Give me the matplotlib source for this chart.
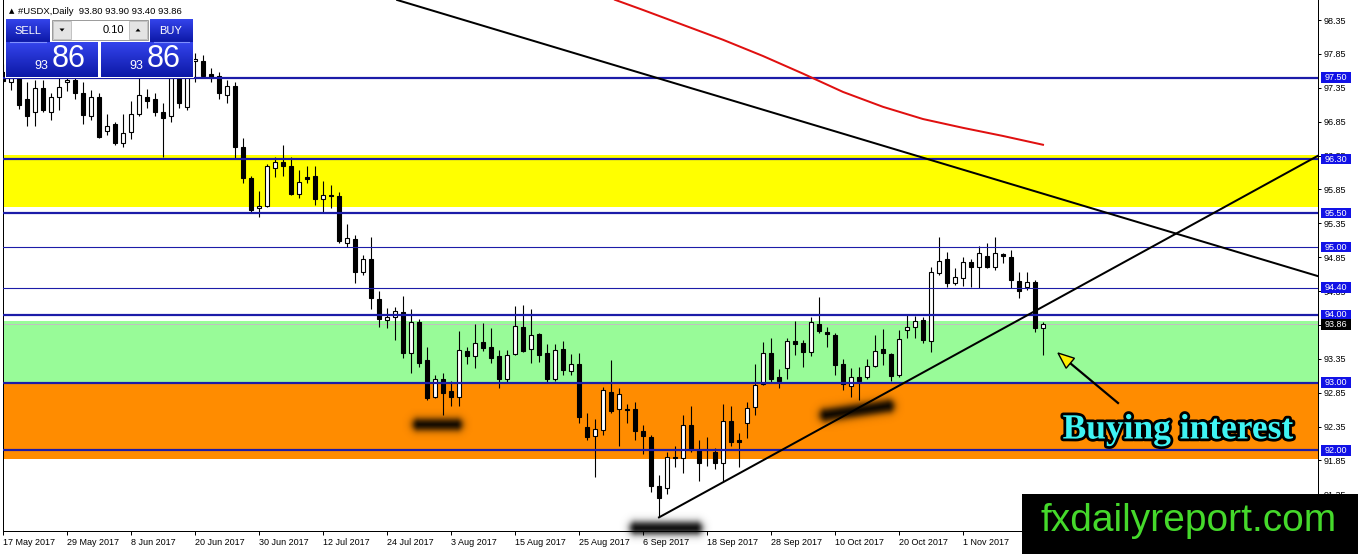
import numpy as np
import matplotlib
matplotlib.use("Agg")
import matplotlib.pyplot as plt
import matplotlib.colors as mcolors
from matplotlib.patches import Rectangle, Polygon
import matplotlib.patheffects as pe

# ---------------- data ----------------
title_text = "#USDX,Daily  93.80 93.90 93.40 93.86"
date_labels = ["17 May 2017", "29 May 2017", "8 Jun 2017", "20 Jun 2017", "30 Jun 2017",
               "12 Jul 2017", "24 Jul 2017", "3 Aug 2017", "15 Aug 2017", "25 Aug 2017",
               "6 Sep 2017", "18 Sep 2017", "28 Sep 2017", "10 Oct 2017", "20 Oct 2017",
               "1 Nov 2017"]
date_label_bars = [0, 8, 16, 24, 32, 40, 48, 56, 64, 72, 80, 88, 96, 104, 112, 120]

opens = [97.58, 97.43, 97.50, 97.19, 96.99, 97.35, 97.00, 97.21, 97.43, 97.46,
         97.28, 96.94, 97.21, 96.72, 96.81, 96.54, 96.70, 96.96, 97.22, 97.18,
         96.99, 96.93, 97.62, 97.07, 97.74, 97.74, 97.55, 97.53, 97.24, 97.38,
         96.48, 96.02, 95.58, 95.61, 96.17, 96.25, 96.20, 95.79, 96.04, 96.05,
         95.71, 95.77, 95.76, 95.06, 95.12, 94.63, 94.82, 94.23, 93.92, 93.97,
         94.04, 93.43, 93.89, 93.33, 92.78, 93.05, 92.87, 92.78, 93.46, 93.39,
         93.60, 93.52, 93.39, 93.06, 93.42, 93.82, 93.49, 93.72, 93.43, 93.05,
         93.49, 93.17, 93.27, 92.34, 92.21, 92.30, 92.86, 92.61, 92.61, 92.61,
         92.28, 92.19, 91.48, 91.44, 91.90, 91.88, 92.37, 92.01, 92.01, 91.97,
         91.82, 92.43, 92.15, 92.40, 92.64, 92.98, 93.43, 93.08, 93.21, 93.61,
         93.58, 93.45, 93.86, 93.74, 93.70, 93.27, 92.95, 93.08, 93.08, 93.24,
         93.49, 93.42, 93.11, 93.77, 93.82, 93.92, 93.61, 94.62, 94.82, 94.47,
         94.54, 94.78, 94.71, 94.87, 94.71, 94.90, 94.86, 94.50, 94.41, 94.49,
         93.80]
highs = [97.70, 97.60, 97.59, 97.44, 97.46, 97.46, 97.28, 97.50, 97.53, 97.53,
         97.44, 97.32, 97.28, 96.97, 96.84, 96.97, 97.15, 97.74, 97.34, 97.27,
         97.13, 97.55, 97.77, 97.70, 97.87, 97.83, 97.65, 97.59, 97.46, 97.44,
         96.61, 96.05, 95.83, 96.23, 96.33, 96.51, 96.33, 96.14, 96.20, 96.20,
         95.98, 95.92, 95.82, 95.34, 95.18, 94.88, 95.15, 94.35, 94.10, 94.12,
         94.28, 94.09, 93.94, 93.52, 93.11, 93.14, 93.02, 93.76, 93.52, 93.86,
         93.88, 93.81, 93.48, 93.48, 94.13, 94.15, 94.09, 93.73, 93.57, 93.57,
         93.61, 93.42, 93.43, 92.55, 92.46, 92.93, 93.33, 92.92, 92.69, 92.71,
         92.37, 92.22, 91.64, 91.98, 92.06, 92.52, 92.65, 92.15, 92.19, 92.03,
         92.69, 92.65, 92.25, 92.71, 93.27, 93.60, 93.66, 93.20, 93.66, 93.91,
         93.63, 93.97, 94.26, 93.82, 93.73, 93.35, 93.21, 93.23, 93.35, 93.70,
         93.79, 93.43, 93.77, 93.99, 93.98, 93.97, 94.71, 95.15, 94.93, 94.69,
         94.86, 94.82, 95.02, 95.06, 95.15, 94.91, 94.96, 94.63, 94.63, 94.51,
         93.90]
lows = [97.42, 97.32, 97.04, 96.78, 96.78, 97.00, 96.87, 97.03, 97.31, 97.19,
        96.82, 96.88, 96.61, 96.66, 96.50, 96.48, 96.59, 96.93, 97.06, 96.94,
        96.33, 96.84, 97.06, 97.03, 97.43, 97.50, 97.43, 97.18, 97.12, 96.32,
        95.95, 95.50, 95.45, 95.59, 96.04, 96.05, 95.77, 95.73, 95.95, 95.62,
        95.50, 95.58, 95.06, 95.00, 94.47, 94.59, 94.09, 93.82, 93.80, 93.63,
        93.37, 93.14, 93.23, 92.74, 92.77, 92.52, 92.65, 92.66, 93.27, 93.21,
        93.46, 93.29, 92.92, 93.00, 93.40, 93.45, 93.29, 93.30, 93.00, 93.03,
        93.11, 93.11, 92.40, 92.15, 91.60, 92.22, 92.55, 92.07, 92.41, 92.15,
        91.95, 91.38, 91.01, 91.36, 91.75, 91.67, 91.97, 91.54, 91.77, 91.73,
        91.53, 92.07, 91.75, 92.18, 92.52, 92.96, 93.00, 92.92, 93.05, 93.40,
        93.23, 93.39, 93.73, 93.52, 93.11, 92.89, 92.78, 92.74, 93.05, 93.23,
        93.26, 93.03, 93.08, 93.66, 93.66, 93.58, 93.45, 94.59, 94.41, 94.44,
        94.43, 94.41, 94.40, 94.69, 94.66, 94.77, 94.40, 94.25, 94.37, 93.74,
        93.40]
closes = [97.45, 97.50, 97.09, 96.94, 97.35, 97.03, 97.21, 97.37, 97.47, 97.28,
          96.95, 97.21, 96.63, 96.78, 96.53, 96.69, 96.97, 97.25, 97.16, 96.99,
          96.91, 97.50, 97.12, 97.62, 97.77, 97.53, 97.50, 97.28, 97.38, 96.47,
          96.02, 95.55, 95.61, 96.19, 96.26, 96.19, 95.79, 95.96, 96.01, 95.71,
          95.77, 95.76, 95.09, 95.13, 94.63, 94.82, 94.25, 93.94, 93.97, 94.06,
          93.43, 93.89, 93.29, 92.77, 93.05, 92.84, 92.78, 93.48, 93.39, 93.58,
          93.51, 93.37, 93.06, 93.40, 93.83, 93.46, 93.70, 93.41, 93.05, 93.48,
          93.18, 93.27, 92.49, 92.19, 92.31, 92.89, 92.58, 92.83, 92.59, 92.28,
          92.21, 91.48, 91.29, 91.90, 91.88, 92.38, 92.01, 91.81, 92.00, 91.81,
          92.43, 92.13, 92.13, 92.62, 92.96, 93.43, 93.06, 93.03, 93.61, 93.57,
          93.45, 93.89, 93.76, 93.72, 93.26, 92.98, 93.08, 93.03, 93.24, 93.46,
          93.43, 93.09, 93.64, 93.82, 93.91, 93.63, 94.63, 94.79, 94.47, 94.56,
          94.78, 94.71, 94.91, 94.71, 94.91, 94.87, 94.51, 94.35, 94.49, 93.80,
          93.86]

# moving average (red) read at sampled bars
ma_bars = [76.5, 80, 85, 90, 95, 100, 105, 110, 115, 120, 125, 130]
ma_vals = [98.65, 98.50, 98.28, 98.06, 97.82, 97.56, 97.29, 97.07, 96.89, 96.76, 96.64, 96.51]

# horizontal levels
levels = [97.50, 96.30, 95.50, 95.00, 94.40, 94.00, 93.00, 92.00]
level_labels = ["97.50", "96.30", "95.50", "95.00", "94.40", "94.00", "93.00", "92.00"]
level_thick = [True, True, True, False, False, True, True, True]
last_price = 93.86

# zones (low, high)
zone_yellow = (95.59, 96.36)
zone_green = (93.00, 93.91)
zone_orange = (91.87, 93.00)

# trend lines (bar, price) anchors
trend_down = [(50.6, 98.60), (164.4, 94.57)]
trend_up = [(82.0, 91.01), (164.4, 96.35)]

price_ticks = [91.35, 91.85, 92.35, 92.85, 93.35, 93.85, 94.35, 94.85,
               95.35, 95.85, 96.35, 96.85, 97.35, 97.85, 98.35]

# ---------------- figure ----------------
W, H, DPI = 1358, 554, 100
fig = plt.figure(figsize=(W / DPI, H / DPI), dpi=DPI)
fig.patch.set_facecolor("white")

AX_L, AX_R, AX_T, AX_B = 3, 1318, 0, 531
ax = fig.add_axes([AX_L / W, (H - AX_B) / H, (AX_R - AX_L) / W, (AX_B - AX_T) / H])
YMIN, YMAX = 90.809, 98.647
ax.set_ylim(YMIN, YMAX)
ax.set_xlim(0, (AX_R - AX_L) / 8.0)
ppu = (AX_B - AX_T) / (YMAX - YMIN)      # pixels per price unit
pxf = 1.0 / (AX_R - AX_L)                # axes fraction per pixel
PX = 0.72                                # points per pixel

# zones
ax.axhspan(*zone_yellow, facecolor="#ffff00", lw=0, zorder=1)
ax.axhspan(*zone_green, facecolor="#98fb98", lw=0, zorder=1)
ax.axhspan(*zone_orange, facecolor="#ff8c00", lw=0, zorder=1)
ax.axhline(last_price, color="#c0c0c0", lw=PX, zorder=1.5)

# candles
o = np.array(opens); h = np.array(highs); l = np.array(lows); c = np.array(closes)
x = np.arange(len(o))
up = c >= o
ax.vlines(x, l, h, color="black", lw=PX * 1.1, zorder=3)
bb = np.minimum(o, c)
bh = np.maximum(np.abs(c - o), 0.012)
ax.bar(x[up], bh[up], bottom=bb[up], width=0.62, facecolor="white",
       edgecolor="black", linewidth=PX * 1.1, zorder=4)
ax.bar(x[~up], bh[~up], bottom=bb[~up], width=0.62, facecolor="black",
       edgecolor="black", linewidth=PX * 1.1, zorder=4)

# levels
LINE_C = "#1c1ca8"
for lv, thick in zip(levels, level_thick):
    ax.axhline(lv, color=LINE_C, lw=PX * (2.2 if thick else 1.1), zorder=5)

# MA and trend lines
ax.plot(ma_bars, ma_vals, color="#e01010", lw=PX * 2, zorder=6)
ax.axline(trend_down[0], trend_down[1], color="black", lw=PX * 2, zorder=6)
ax.plot([p[0] for p in trend_up], [p[1] for p in trend_up], color="black",
        lw=PX * 2, zorder=6)

# axes styling
ax.spines["top"].set_visible(False)
for s in ["left", "right", "bottom"]:
    ax.spines[s].set_linewidth(PX)
    ax.spines[s].set_color("black")
ax.yaxis.tick_right()
ax.set_yticks(price_ticks)
ax.set_yticklabels([f"{v:.2f}" for v in price_ticks])
ax.set_xticks(date_label_bars)
ax.set_xticklabels(date_labels)
for lbl in ax.get_xticklabels():
    lbl.set_horizontalalignment("left")
ax.tick_params(axis="y", length=3 * PX, width=PX, pad=2, labelsize=6.5,
               labelfontfamily="Liberation Sans")
ax.tick_params(axis="x", length=4 * PX, width=PX, pad=2, labelsize=6.5,
               labelfontfamily="Liberation Sans")

# price tags on the right axis
ytr = ax.get_yaxis_transform()
TAG_C = "#1212e6"
def tag(val, text, face):
    hh = 10.5 / ppu
    ax.add_patch(Rectangle((1 + 3 * pxf, val - hh / 2), 30 * pxf, hh, transform=ytr,
                           facecolor=face, edgecolor="none", clip_on=False, zorder=20))
    ax.text(1 + 18 * pxf, val, text, transform=ytr, ha="center", va="center",
            color="white", fontsize=6.5, family="Liberation Sans", clip_on=False, zorder=21)

for lv, lab in zip(levels, level_labels):
    tag(lv, lab, TAG_C)
tag(last_price, f"{last_price:.2f}", "black")

# ---------------- overlay (pixel coords) ----------------
ov = fig.add_axes([0, 0, 1, 1], zorder=10)
ov.set_facecolor("none")
ov.axis("off")

def grad_box(x0, y0, x1, y1, top="#3444ec", bot="#0c18a6", z=11):
    t = np.linspace(0, 1, 64)[:, None]
    c0 = np.array(mcolors.to_rgb(top)); c1 = np.array(mcolors.to_rgb(bot))
    img = (c0 * (1 - t) + c1 * t)[:, None, :]
    ov.imshow(img, extent=(x0, x1, y1, y0), origin="upper", aspect="auto",
              interpolation="bilinear", zorder=z)

def blob(p1, p2, r, soft):
    p1 = np.array(p1, float); p2 = np.array(p2, float)
    m = r + 5 * soft
    x0, x1 = min(p1[0], p2[0]) - m, max(p1[0], p2[0]) + m
    y0, y1 = min(p1[1], p2[1]) - m, max(p1[1], p2[1]) + m
    xs = np.linspace(x0, x1, int((x1 - x0) * 2))
    ys = np.linspace(y0, y1, int((y1 - y0) * 2))
    X, Y = np.meshgrid(xs, ys)
    d = p2 - p1
    t = np.clip(((X - p1[0]) * d[0] + (Y - p1[1]) * d[1]) / (d @ d), 0, 1)
    dist = np.hypot(X - (p1[0] + t * d[0]), Y - (p1[1] + t * d[1]))
    a = 1 / (1 + np.exp((dist - r) / soft))
    rgba = np.zeros(X.shape + (4,)); rgba[..., 3] = a
    ov.imshow(rgba, extent=(x0, x1, y1, y0), origin="upper", aspect="auto",
              interpolation="bilinear", zorder=12)

blob((418, 425), (456, 425), 5.5, 2.2)
blob((826, 415), (888, 406), 6.0, 2.2)
blob((636, 528), (696, 528), 6.0, 2.2)

# title
ov.text(9, 11, "\u25B2", fontsize=5, family="DejaVu Sans", ha="left", va="center", zorder=13)
ov.text(18, 11, title_text, fontsize=6.8, family="Liberation Sans", ha="left",
        va="center", zorder=13)

# one-click trading panel
ov.add_patch(Rectangle((5, 18), 189, 60, facecolor="white", edgecolor="none", zorder=10.5))
grad_box(6, 19, 50, 42)
grad_box(6, 42, 98, 77)
grad_box(150, 19, 193, 42)
grad_box(101, 42, 193, 77)
ov.plot([10, 46], [41.5, 41.5], color="#8090ff", lw=0.8, zorder=12)
ov.plot([154, 189], [41.5, 41.5], color="#8090ff", lw=0.8, zorder=12)
ov.add_patch(Rectangle((52, 19.5), 96, 20.5, facecolor="white", edgecolor="#9a9a9a",
                       lw=0.7, zorder=11))
ov.add_patch(Rectangle((53, 20.5), 18, 18.5, facecolor="#e4e4e4", edgecolor="#b0b0b0",
                       lw=0.5, zorder=11.5))
ov.add_patch(Rectangle((129, 20.5), 18, 18.5, facecolor="#e4e4e4", edgecolor="#b0b0b0",
                       lw=0.5, zorder=11.5))
ov.add_patch(Polygon([(59.5, 28.5), (64.5, 28.5), (62, 31.5)], closed=True,
                     facecolor="black", edgecolor="none", zorder=12))
ov.add_patch(Polygon([(135.5, 31.5), (140.5, 31.5), (138, 28.5)], closed=True,
                     facecolor="black", edgecolor="none", zorder=12))
ov.text(124, 30, "0.10", fontsize=8, family="Liberation Sans", ha="right", va="center", zorder=12)
ov.text(28, 30.5, "SELL", fontsize=8, family="Liberation Sans", color="white",
        ha="center", va="center", zorder=12)
ov.text(171, 30.5, "BUY", fontsize=8, family="Liberation Sans", color="white",
        ha="center", va="center", zorder=12)
for bx in (0, 95):
    ov.text(41 + bx, 66, "93", fontsize=9, family="Liberation Sans", color="white",
            ha="center", va="center", zorder=12)
    ov.text(69 + bx, 59, "86", fontsize=22, family="Liberation Sans", color="white",
            ha="center", va="center", zorder=12)

# annotation arrow
tail = np.array([1118.0, 403.0]); tip = np.array([1058.0, 353.0])
dv = (tip - tail) / np.hypot(*(tip - tail))
base = tip - 16 * dv
perp = np.array([-dv[1], dv[0]])
ov.plot([tail[0], base[0]], [tail[1], base[1]], color="black", lw=1.6, zorder=13)
ov.add_patch(Polygon([tip, base + 6.5 * perp, base - 6.5 * perp], closed=True,
                     facecolor="#ffee00", edgecolor="black", lw=1.0, zorder=14))

ov.text(1178, 430, "Buying interest", fontsize=25.5, family="Liberation Serif",
        weight="bold", color="#3ff4f4", ha="center", va="center", zorder=14,
        path_effects=[pe.withStroke(linewidth=4, foreground="black")])

# watermark box
ov.add_patch(Rectangle((1022, 494), 336, 60, facecolor="black", edgecolor="none", zorder=15))
ov.text(1189, 521, "fxdailyreport.com", fontsize=28, family="Liberation Sans",
        color="#45d92b", ha="center", va="center", zorder=16)

ov.set_xlim(0, W)
ov.set_ylim(H, 0)

fig.savefig("out.png", dpi=DPI)
